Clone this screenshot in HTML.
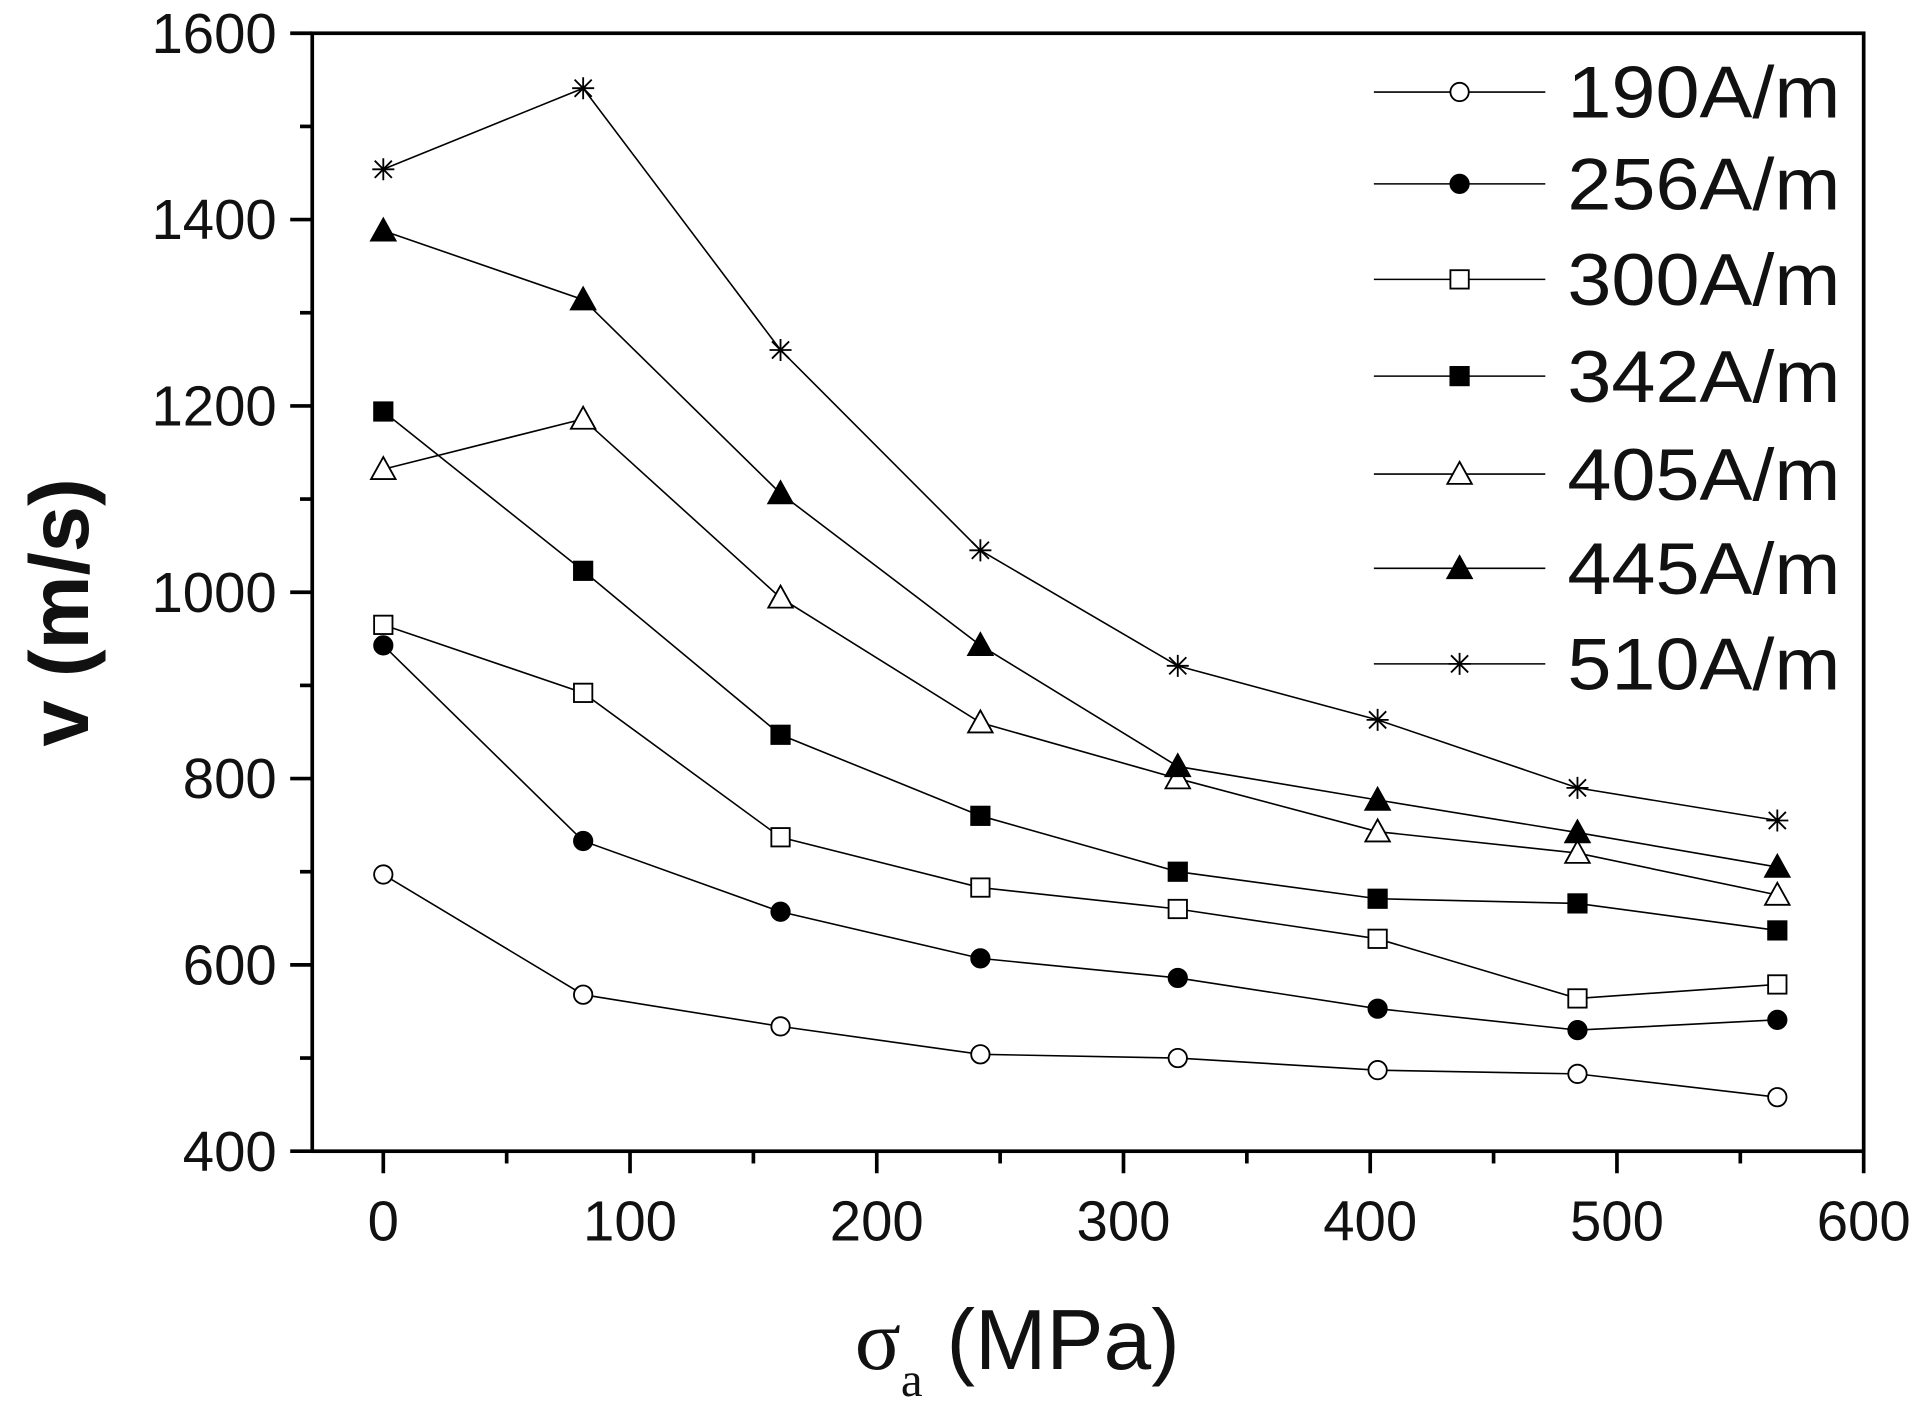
<!DOCTYPE html>
<html><head><meta charset="utf-8"><style>
html,body{margin:0;padding:0;background:#fff;}
svg{display:block;}
text{font-family:"Liberation Sans",sans-serif;fill:#111;}
</style></head><body>
<svg id="chart" width="1920" height="1411" viewBox="0 0 1568 1152" xmlns="http://www.w3.org/2000/svg">
<g id="plot"></g>
</svg>
<script>
const xValues=[0,81,161,242,322,403,484,565];
const seriesNames=["190A/m","256A/m","300A/m","342A/m","405A/m","445A/m","510A/m"];
const s190=[697,568,534,504,500,487,483,458];
const s256=[943,733,657,607,586,553,530,541];
const s300=[965,892,737,683,660,628,564,579];
const s342=[1194,1023,847,760,700,671,666,637];
const s405=[1132,1186,994,860,800,743,720,675];
const s445=[1388,1314,1106,943,813,777,742,705];
const s510=[1454,1541,1260,1045,921,863,790,755];
const markers=["circle-open","circle","square-open","square","triangle-open","triangle","star"];
const xTicks=[0,100,200,300,400,500,600];
const yTicks=[400,600,800,1000,1200,1400,1600];

const NS="http://www.w3.org/2000/svg";
const L=255,R=1522,T=27,B=940,XMIN=-28.8,XMAX=600,YMIN=400,YMAX=1600;
const sx=v=>L+(v-XMIN)/(XMAX-XMIN)*(R-L);
const sy=v=>B-(v-YMIN)/(YMAX-YMIN)*(B-T);
const g=document.getElementById('plot');
function el(tag,attrs,parent){const e=document.createElementNS(NS,tag);for(const k in attrs)e.setAttribute(k,attrs[k]);(parent||g).appendChild(e);return e;}

const frame=el('rect',{x:L,y:T,width:R-L,height:B-T,fill:'none',stroke:'#000','stroke-width':3});



for(let v=0;v<=600;v+=50){
  const major=v%100===0;
  const t=el('line',{x1:sx(v),x2:sx(v),y1:B,y2:B+(major?18:10),stroke:'#000','stroke-width':3});
  
  
}
xTicks.forEach(v=>{
  const t=el('text',{x:sx(v),y:1013,'text-anchor':'middle','font-size':46});
  t.textContent=v;
  
  
});
for(let v=400;v<=1600;v+=100){
  const major=v%200===0;
  const t=el('line',{x1:L-(major?18:10),x2:L,y1:sy(v),y2:sy(v),stroke:'#000','stroke-width':3});
  
  
}
yTicks.forEach(v=>{
  const t=el('text',{x:226,y:sy(v)+16,'text-anchor':'end','font-size':46});
  t.textContent=v;
  
  
});

const yt=el('text',{x:0,y:0,'font-size':68,'font-weight':'bold','text-anchor':'middle',transform:'translate(72,500) rotate(-90)'});
yt.textContent='v (m/s)';


const xt=el('text',{x:698,y:1118,'font-size':70,'text-anchor':'start'});
xt.innerHTML='<tspan font-family="Liberation Serif, serif">σ</tspan><tspan font-family="Liberation Serif, serif" font-size="40" dy="22">a</tspan><tspan dy="-22"> (MPa)</tspan>';



function marker(type,x,y,parent){
  let m;
  if(type==='circle'||type==='circle-open'){
    m=el('circle',{cx:x,cy:y,r:7.5,fill:type==='circle'?'#000':'#fff',stroke:'#000','stroke-width':1.5},parent);
  }else if(type==='square'||type==='square-open'){
    m=el('rect',{x:x-7.5,y:y-7.5,width:15,height:15,fill:type==='square'?'#000':'#fff',stroke:'#000','stroke-width':1.5},parent);
  }else if(type==='triangle'||type==='triangle-open'){
    m=el('polygon',{points:`${x},${y-10} ${x-10},${y+8} ${x+10},${y+8}`,fill:type==='triangle'?'#000':'#fff',stroke:'#000','stroke-width':1.5},parent);
  }else{
    m=el('path',{d:`M${x-9},${y}H${x+9}M${x},${y-9}V${y+9}M${x-7},${y-7}L${x+7},${y+7}M${x-7},${y+7}L${x+7},${y-7}`,stroke:'#000','stroke-width':1.5,fill:'none'},parent);
  }
  
  
}

const allSeries=[s190,s256,s300,s342,s405,s445,s510];
allSeries.forEach((s,i)=>{
  const sg=el('g',{});
  
  
  const pts=s.map((v,j)=>sx(xValues[j])+','+sy(v)).join(' ');
  el('polyline',{points:pts,fill:'none',stroke:'#000','stroke-width':1.3},sg);
  s.forEach((v,j)=>marker(markers[i],sx(xValues[j]),sy(v),sg));
});

const legY=[75,150,228,307,387,464,542];
seriesNames.forEach((n,i)=>{
  const lg=el('g',{});
  
  
  el('line',{x1:1122,x2:1262,y1:legY[i],y2:legY[i],stroke:'#000','stroke-width':1.3},lg);
  marker(markers[i],1192,legY[i],lg);
  const t=el('text',{x:1280,y:legY[i]+21,'font-size':60,textLength:223,lengthAdjust:'spacingAndGlyphs'},lg);
  t.textContent=n;
});
</script>
</body></html>
